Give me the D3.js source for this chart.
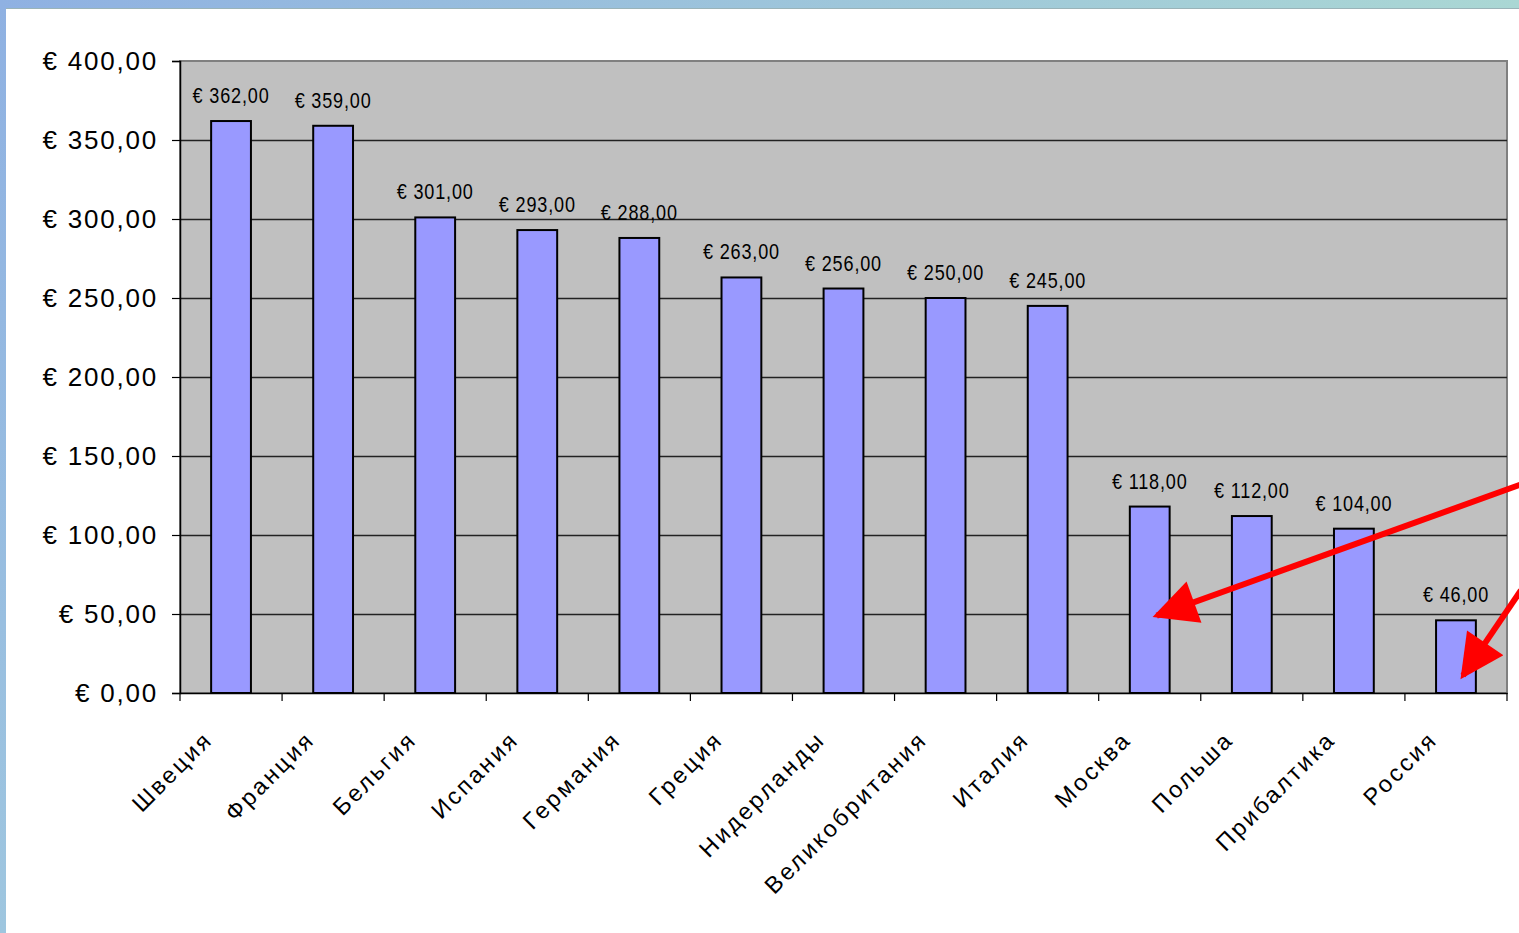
<!DOCTYPE html>
<html>
<head>
<meta charset="utf-8">
<script src="https://cdn.jsdelivr.net/npm/d3@7"></script>
<style>
  html, body { margin: 0; padding: 0; background: #ffffff; }
  svg { display: block; }
</style>
</head>
<body>
<svg id="chart" width="1519" height="933"></svg>
<script>
const categories = ["Швеция", "Франция", "Бельгия", "Испания", "Германия", "Греция", "Нидерланды", "Великобритания", "Италия", "Москва", "Польша", "Прибалтика", "Россия"];
const values = [362, 359, 301, 293, 288, 263, 256, 250, 245, 118, 112, 104, 46];
const yTicks = [0, 50, 100, 150, 200, 250, 300, 350, 400];
const arrowTargets = [
  { category: "Москва", value: 49, fromValue: 132 },
  { category: "Россия", value: 11, fromValue: 65 }
];

const W = 1519, H = 933;
const M = { left: 180, right: 12, top: 61, bottom: 240 };
const svg = d3.select("#chart");

// slide frame
const defs = svg.append("defs");
const gTop = defs.append("linearGradient").attr("id", "gTop").attr("x1", 0).attr("x2", 1).attr("y1", 0).attr("y2", 0);
gTop.append("stop").attr("offset", 0).attr("stop-color", "#8fb1e2");
gTop.append("stop").attr("offset", 1).attr("stop-color", "#aad7d4");
const gLeft = defs.append("linearGradient").attr("id", "gLeft").attr("x1", 0).attr("x2", 0).attr("y1", 0).attr("y2", 1);
gLeft.append("stop").attr("offset", 0).attr("stop-color", "#8fb1e2");
gLeft.append("stop").attr("offset", 1).attr("stop-color", "#9ec6df");
svg.append("rect").attr("x", 0).attr("y", 0).attr("width", 6).attr("height", H).attr("fill", "url(#gLeft)");
svg.append("rect").attr("x", 0).attr("y", 0).attr("width", W).attr("height", 8).attr("fill", "url(#gTop)");
svg.append("line").attr("x1", 6).attr("x2", W).attr("y1", 8.5).attr("y2", 8.5).attr("stroke", "#9ab3b8").attr("stroke-width", 1);

const x = d3.scaleBand().domain(categories).range([M.left, W - M.right]).padding(0);
const y = d3.scaleLinear().domain([0, 400]).range([H - M.bottom, M.top]);
const bw = x.bandwidth();
const barW = bw * 0.39;

// plot background
svg.append("rect")
  .attr("x", M.left).attr("y", M.top)
  .attr("width", W - M.right - M.left).attr("height", y(0) - M.top)
  .attr("fill", "#c0c0c0").attr("stroke", "#808080").attr("stroke-width", 2);

// gridlines
svg.append("g").selectAll("line").data(yTicks.filter(d => d > 0 && d < 400)).join("line")
  .attr("x1", M.left).attr("x2", W - M.right)
  .attr("y1", d => Math.round(y(d)) + 0.5).attr("y2", d => Math.round(y(d)) + 0.5)
  .attr("stroke", "#222").attr("stroke-width", 1.4);

// y axis
const fmt = d => "€ " + d3.format(".2f")(d).replace(".", ",");
const yAxis = svg.append("g").attr("transform", `translate(${M.left},0)`)
  .call(d3.axisLeft(y).tickValues(yTicks).tickSize(8).tickPadding(14).tickFormat(fmt));
yAxis.select(".domain").attr("stroke", "#000").attr("stroke-width", 1.5);
yAxis.selectAll(".tick line").attr("stroke", "#000").attr("stroke-width", 1.2);
yAxis.selectAll("text")
  .attr("font-family", "Liberation Sans, Arial, sans-serif")
  .attr("font-size", 26).attr("letter-spacing", "1.8px").attr("fill", "#000");

// x axis
const xAxis = svg.append("g").attr("transform", `translate(0,${y(0)})`)
  .call(d3.axisBottom(x).tickSize(0).tickFormat(""));
xAxis.select(".domain").attr("stroke", "#000").attr("stroke-width", 1.5);
const bounds = categories.map(c => x(c)).concat([W - M.right]);
xAxis.selectAll(".bt").data(bounds).join("line").attr("class", "bt")
  .attr("x1", d => d).attr("x2", d => d).attr("y1", 0).attr("y2", 8)
  .attr("stroke", "#000").attr("stroke-width", 1.2);
xAxis.selectAll(".xl").data(categories).join("text").attr("class", "xl")
  .attr("text-anchor", "end")
  .attr("transform", d => `translate(${x(d) + bw / 2 - 17},48) rotate(-45)`)
  .attr("font-family", "Liberation Sans, Arial, sans-serif")
  .attr("font-size", 23.5).attr("letter-spacing", "2.7px").attr("fill", "#000")
  .text(d => d);

// bars
svg.append("g").selectAll("rect").data(values).join("rect")
  .attr("x", (d, i) => x(categories[i]) + (bw - barW) / 2)
  .attr("y", d => y(d))
  .attr("width", barW)
  .attr("height", d => y(0) - y(d))
  .attr("fill", "#9999ff").attr("stroke", "#000").attr("stroke-width", 2);

// value labels (condensed look)
svg.append("g").selectAll("text").data(values).join("text")
  .attr("transform", (d, i) => `translate(${x(categories[i]) + bw / 2},${y(d) - 18}) scale(0.84,1)`)
  .attr("text-anchor", "middle")
  .attr("font-family", "Liberation Sans, Arial, sans-serif")
  .attr("font-size", 21.5).attr("letter-spacing", "1px").attr("fill", "#000")
  .text(d => fmt(d));

// red arrows
defs.append("marker").attr("id", "ah").attr("viewBox", "0 0 10 10")
  .attr("refX", 9).attr("refY", 5).attr("markerUnits", "userSpaceOnUse")
  .attr("markerWidth", 58).attr("markerHeight", 44).attr("orient", "auto")
  .append("path").attr("d", "M0,0 L10,5 L0,10 Z").attr("fill", "#ff0000");
svg.append("g").selectAll("line").data(arrowTargets).join("line")
  .attr("x1", W + 2).attr("y1", d => y(d.fromValue))
  .attr("x2", d => x(d.category) + bw / 2 + 7).attr("y2", d => y(d.value))
  .attr("stroke", "#ff0000").attr("stroke-width", 6)
  .attr("marker-end", "url(#ah)");
</script>
</body>
</html>
